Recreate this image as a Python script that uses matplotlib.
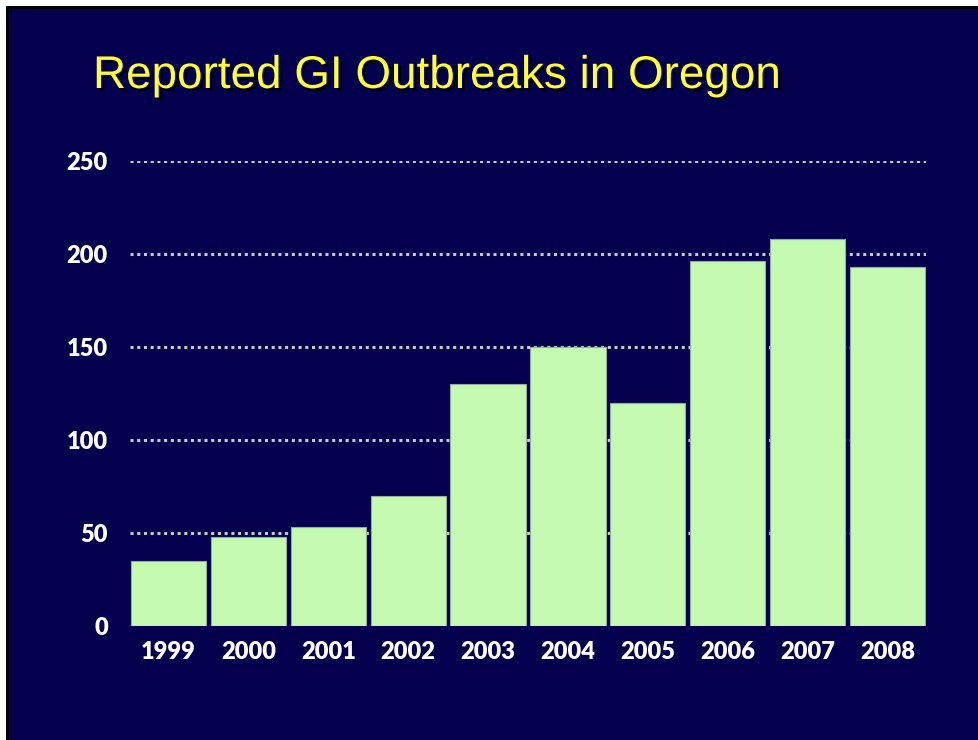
import matplotlib
matplotlib.use("Agg")
import matplotlib.pyplot as plt
import matplotlib.patheffects as pe
from matplotlib.patches import Rectangle
import numpy as np

# data
years = ['1999', '2000', '2001', '2002', '2003', '2004', '2005', '2006', '2007', '2008']
outbreaks = [35, 48, 53, 70, 130, 150, 120, 196, 208, 193]
yticks = [0, 50, 100, 150, 200, 250]

navy = '#05004e'
bar_color = '#c4fab0'

fig = plt.figure(figsize=(9.79, 7.40), dpi=100, facecolor='white')

# slide background with a thin dark edge on top/left
fig.patches.append(Rectangle((6/979, 0), 1, 1 - 6/740, transform=fig.transFigure,
                             facecolor='black', edgecolor='none', zorder=-2))
fig.patches.append(Rectangle((9/979, 0), 1, 1 - 9/740, transform=fig.transFigure,
                             facecolor=navy, edgecolor='none', zorder=-1))

# title with drop shadow
fig.text(93/979, 1 - 88/740, 'Reported GI Outbreaks in Oregon', fontsize=33,
         family='Liberation Sans', color='#ffff33', ha='left', va='baseline',
         path_effects=[pe.SimplePatchShadow(offset=(2, -2), shadow_rgbFace='black', alpha=0.9),
                       pe.Normal()])

ax = fig.add_axes([130/979, 1 - 626/740, (926 - 130)/979, (626 - 161)/740])
ax.patch.set_alpha(0)

x = np.arange(len(years))
ax.bar(x, outbreaks, width=0.94, color=bar_color, edgecolor='#9aa8a0', linewidth=0.8, zorder=3)

for v in yticks[1:]:
    ax.axhline(v, color='#c8c8c8', linestyle=(0, (1, 1.2)), linewidth=2.2, zorder=1)

tick_font = dict(fontsize=17, fontweight='heavy', color='white', family='Lato')

ax.set_xlim(-0.48, len(years) - 0.52)
ax.set_ylim(0, 250)
ax.set_yticks(yticks)
ax.set_yticklabels([str(t) for t in yticks], **tick_font)
ax.set_xticks(x)
ax.set_xticklabels(years, **tick_font)
ax.tick_params(axis='both', length=0)
ax.tick_params(axis='y', pad=16)
ax.tick_params(axis='x', pad=11)
for s in ax.spines.values():
    s.set_visible(False)

fig.savefig('out.png', dpi=100, facecolor=fig.get_facecolor())
